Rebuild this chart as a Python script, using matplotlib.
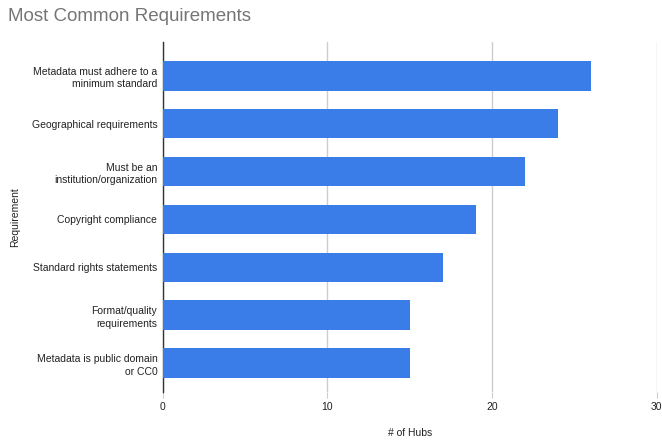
import matplotlib
matplotlib.use("Agg")
import matplotlib.pyplot as plt

plt.rcParams['font.family'] = ['Liberation Sans', 'DejaVu Sans']

# data
requirements = [
    "Metadata must adhere to a\nminimum standard",
    "Geographical requirements",
    "Must be an\ninstitution/organization",
    "Copyright compliance",
    "Standard rights statements",
    "Format/quality\nrequirements",
    "Metadata is public domain\nor CC0",
]
hubs = [26, 24, 22, 19, 17, 15, 15]
x_ticks = [0, 10, 20, 30]

fig = plt.figure(figsize=(6.62, 4.43), dpi=100)
ax = fig.add_axes([0.246, 0.115, 0.746, 0.79])

y = list(range(len(requirements)))
ax.barh(y, hubs, height=0.62, color="#3a7ce8", zorder=3)

ax.set_xlim(0, 30)
ax.set_ylim(6.6, -0.7)
ax.set_xticks(x_ticks)
ax.set_yticks(y)
ax.set_yticklabels(requirements, fontsize=7.5, color="#222222", linespacing=1.35)
ax.tick_params(axis='y', length=0, pad=4)
ax.tick_params(axis='x', length=4, color="#cccccc", labelsize=7.5, labelcolor="#222222", pad=3)

ax.grid(axis='x', color="#cccccc", linewidth=1, zorder=0)
for s in ['top', 'right', 'bottom']:
    ax.spines[s].set_visible(False)
ax.spines['left'].set_color("#333333")
ax.spines['left'].set_linewidth(1)

ax.set_xlabel("# of Hubs", fontsize=7.5, color="#222222", labelpad=12)
ax.set_ylabel("Requirement", fontsize=7.5, color="#222222", labelpad=8)

fig.text(0.012, 0.962, "Most Common Requirements", fontsize=13.5, color="#757575",
         ha='left', va='center')

fig.savefig("out.png", dpi=100, facecolor="white")
